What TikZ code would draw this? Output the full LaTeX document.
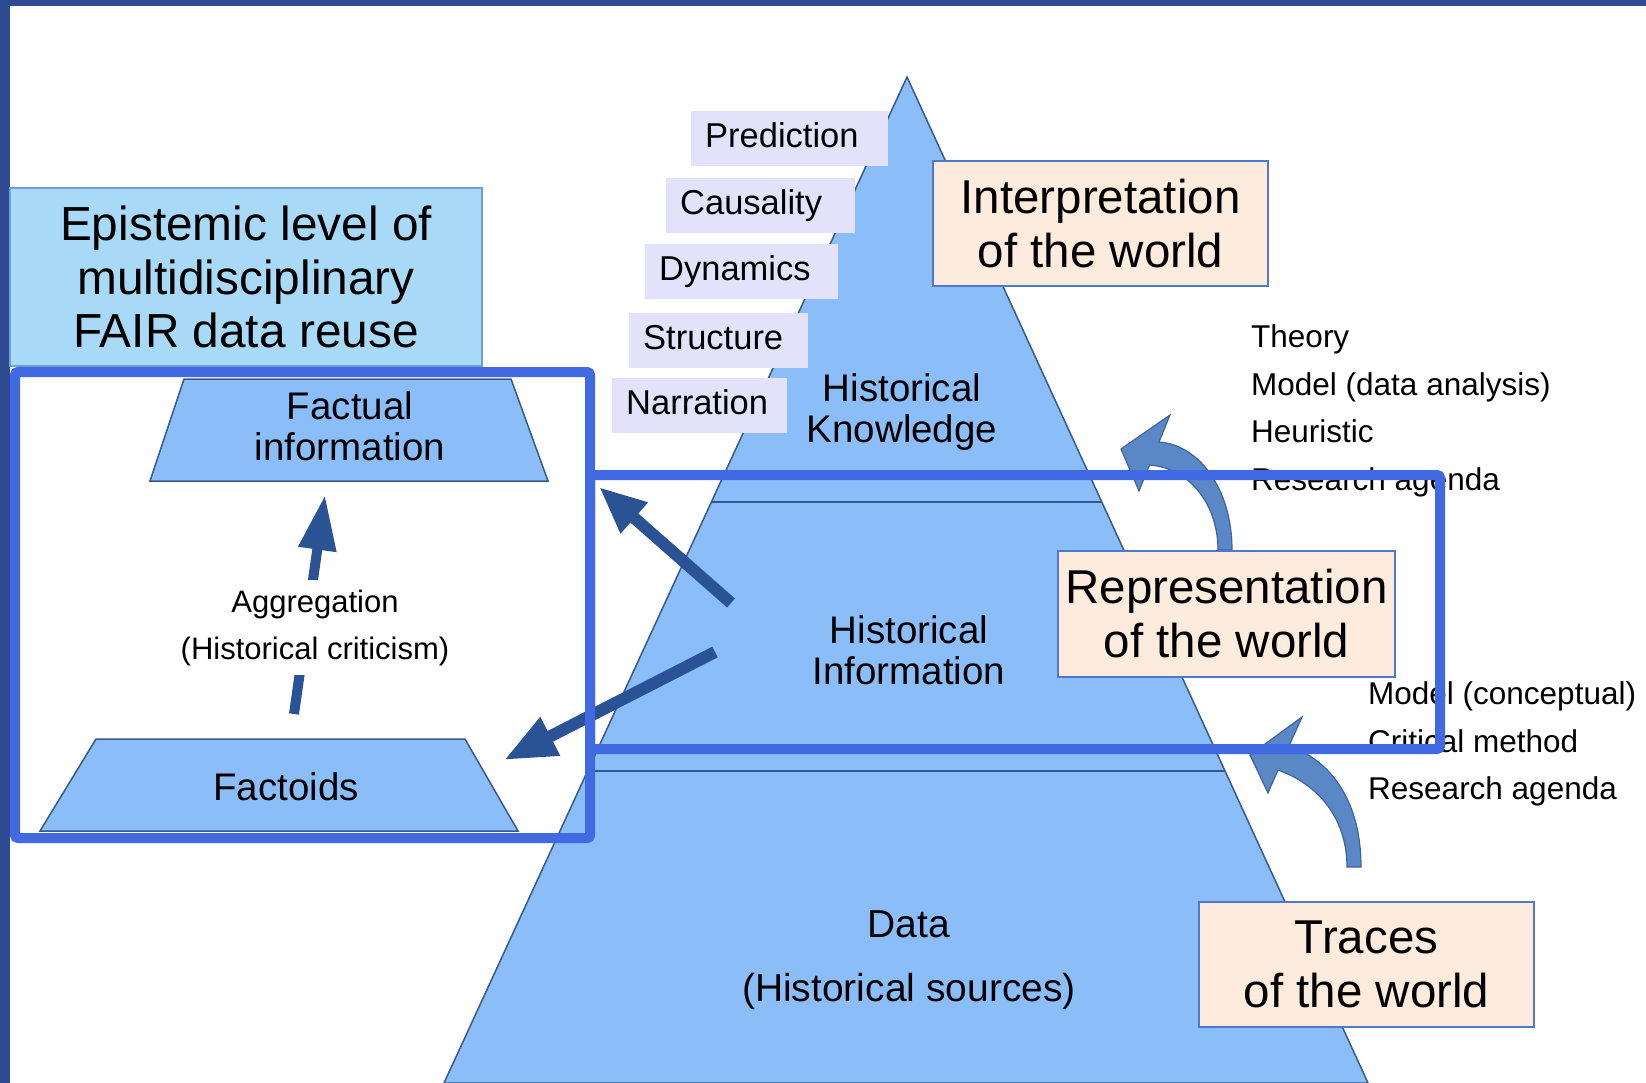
\documentclass[tikz,border=0pt]{standalone}
\usepackage{fontspec}
\setmainfont{Liberation Sans}
\usetikzlibrary{arrows.meta}
\definecolor{navy}{RGB}{46,74,145}
\definecolor{pyrfill}{RGB}{139,190,248}
\definecolor{pyrline}{RGB}{55,90,140}
\definecolor{sepline}{RGB}{50,88,148}
\definecolor{lav}{RGB}{228,226,250}
\definecolor{peach}{RGB}{253,236,221}
\definecolor{peachline}{RGB}{80,120,200}
\definecolor{sky}{RGB}{168,218,248}
\definecolor{skyline}{RGB}{110,160,215}
\definecolor{frameblue}{RGB}{65,105,225}
\definecolor{darkarrow}{RGB}{42,83,150}
\definecolor{curvefill}{RGB}{90,136,198}
\definecolor{curveline}{RGB}{62,100,160}
\newcommand\myfs[2]{\fontsize{#1}{#2}\selectfont}
\begin{document}
\begin{tikzpicture}[x=1pt,y=-1pt,
  pyrtext/.style={align=center,font=\myfs{38.5}{41},inner sep=0pt},
  lavbox/.style={fill=lav,inner xsep=14pt,inner ysep=0pt,text height=25pt,text depth=7pt,
    minimum height=55pt,align=left,font=\myfs{34.5}{40},anchor=west},
  peachbox/.style={fill=peach,draw=peachline,line width=1.2pt,minimum width=335pt,
    minimum height=125pt,align=center,font=\myfs{47.5}{54},inner sep=0pt},
  trap/.style={fill=pyrfill,draw=pyrline,line width=1.5pt},
  sepl/.style={draw=sepline,line width=2.5pt},
  darkarr/.style={draw=darkarrow,fill=darkarrow,line cap=butt},
  sidetext/.style={align=left,font=\myfs{31.5}{47.5},inner sep=0pt,anchor=west},
  curvearr/.style={fill=curvefill,draw=curveline,line width=1.2pt,line join=miter},
  frame/.style={draw=frameblue,line width=10pt,rounded corners=3pt}]
\useasboundingbox (0,0) rectangle (1646,1083);
\fill[navy] (0,0) rectangle (1646,1083);
\fill[white] (10,6) rectangle (1646,1083);

% pyramid
\coordinate (apex) at (907,77);
\coordinate (bl) at (444,1083);
\coordinate (br) at (1368,1083);
\filldraw[fill=pyrfill,draw=pyrline,line width=1.5pt] (apex) -- (br) -- (bl) -- cycle;
\coordinate (s1l) at (711.3,502); \coordinate (s1r) at (1101.8,502);
\coordinate (s2l) at (587.9,771); \coordinate (s2r) at (1225.1,771);
\draw[sepl] (s1l) -- (s1r);
\draw[sepl] (s2l) -- (s2r);

% lavender boxes
\node[lavbox,text width=169pt] (pred) at (691,138.5) {Prediction};
\node[lavbox,text width=161pt] (caus) at (666,205.5) {Causality};
\node[lavbox,text width=165pt] (dyn) at (645,272) {Dynamics};
\node[lavbox,text width=151pt] (struc) at (629,340) {Structure};
\node[lavbox,text width=147pt] (narr) at (612,405) {Narration};

% layer texts
\node[pyrtext] (know) at (902,412) {Historical\\Knowledge};
\node[pyrtext] (info) at (909,650) {Historical\\Information};
\node[pyrtext,font=\myfs{39}{64}] (data) at (909,960) {Data\\(Historical sources)};

% interpretation box
\node[peachbox] (interp) at (1100.5,223.5) {Interpretation\\of the world};

% epistemic box
\node[fill=sky,draw=skyline,line width=1.2pt,minimum width=472pt,minimum height=178pt,
  align=center,font=\myfs{47.8}{53.5},inner sep=0pt] (epi) at (246,277)
  {Epistemic level of\\multidisciplinary\\FAIR data reuse};

% trapezoids
\filldraw[trap] (184,379) -- (511,379) -- (548,481) -- (150,481) -- cycle;
\node[pyrtext] (fact) at (350,426) {Factual\\information};
\filldraw[trap] (96,739) -- (465,739) -- (518,831) -- (40,831) -- cycle;
\node[pyrtext] (factoids) at (286,787) {Factoids};

% aggregation arrow
\coordinate (aggS) at (294,714);
\coordinate (aggE) at (325,495);
\draw[darkarr,line width=10pt,-{Triangle[length=55pt,width=36pt]}] (aggS) -- (aggE);
\node[fill=white,inner xsep=2pt,inner ysep=10pt,align=center,font=\myfs{31}{47}] (agg)
  at (315,627.5) {Aggregation\\(Historical criticism)};

% dark arrows
\coordinate (a1s) at (731,603);
\coordinate (a1e) at (599,487);
\draw[darkarr,line width=12pt,-{Triangle[length=47pt,width=38pt]}] (a1s) -- (a1e);
\coordinate (a2s) at (715,652);
\coordinate (a2e) at (504,760);
\draw[darkarr,line width=12pt,-{Triangle[length=52pt,width=40pt]}] (a2s) -- (a2e);

% side texts
\node[sidetext] (upper) at (1251,411) {Theory\\Model (data analysis)\\Heuristic\\Research agenda};
\node[sidetext] (lower) at (1368,744) {Model (conceptual)\\Critical method\\Research agenda};

% curved arrows
\filldraw[curvearr] (1232,550) .. controls (1232,490) and (1200,445) .. (1159,442)
  -- (1170,415) -- (1121,449) -- (1139,491) -- (1149.5,465)
  .. controls (1190,468) and (1218,505) .. (1218,550) -- cycle;
\filldraw[curvearr] (1361,867) .. controls (1361,800) and (1330,760) .. (1289,746)
  -- (1302,717) -- (1250,755) -- (1268,793) -- (1278,770)
  .. controls (1320,785) and (1347,820) .. (1347,867) -- cycle;

% frames
\draw[frame] (15,372) rectangle (590,838);
\draw[frame] (590,475) rectangle (1440,749);

% representation and traces boxes
\node[peachbox,minimum width=337pt,minimum height=126pt] (repr) at (1226.5,614) {Representation\\of the world};
\node[peachbox] (traces) at (1366.5,964.5) {Traces\\of the world};
\end{tikzpicture}
\end{document}
